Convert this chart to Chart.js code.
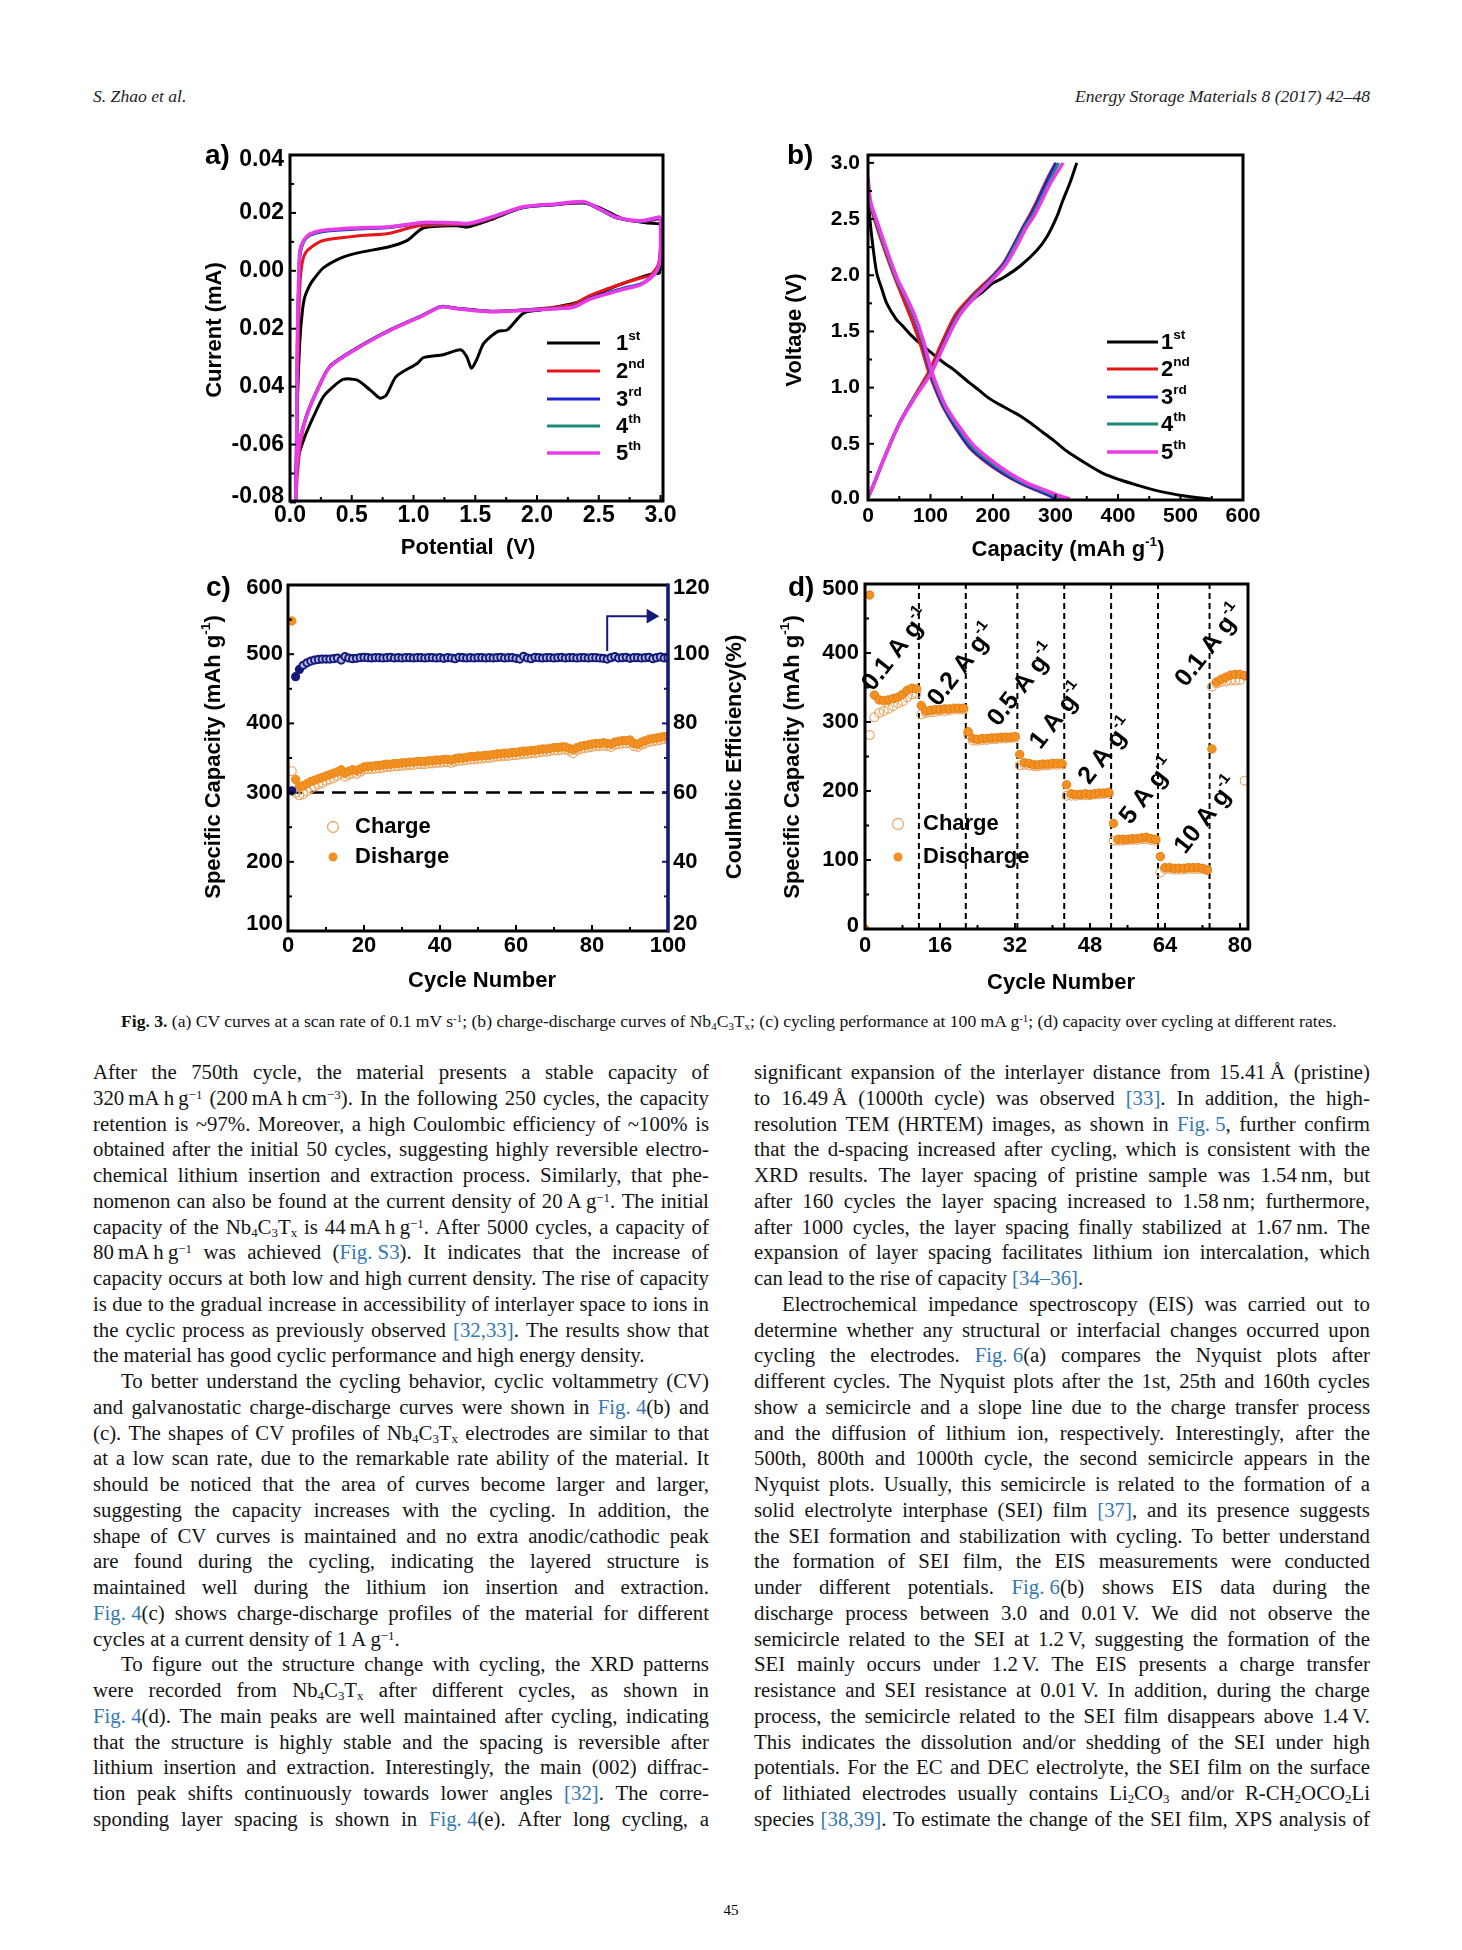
<!DOCTYPE html>
<html>
<head>
<meta charset="utf-8">
<script src="https://cdn.jsdelivr.net/npm/chart.js@4.4.1/dist/chart.umd.min.js"></script>
<style>
html, body { margin: 0; padding: 0; background: #fff; }
#page { position: relative; width: 1462px; height: 1950px; overflow: hidden; background: #fff; }
canvas { position: absolute; }
.hdr { position: absolute; top: 86px; font: italic 17.6px "Liberation Serif", serif; color: #222; white-space: nowrap; }
.cap { position: absolute; left: 121px; top: 1011px; font: 17.6px "Liberation Serif", serif; color: #111; white-space: nowrap; }
.col { position: absolute; top: 1059px; width: 616px; font: 20.8px/25.76px "Liberation Serif", serif; color: #141414; }
.ln { display: flex; justify-content: space-between; height: 25.76px; white-space: nowrap; }
.ln.e { display: block; }
.ln.i { padding-left: 28px; }
sup { font-size: 0.62em; vertical-align: 0.5em; line-height: 0; }
sub { font-size: 0.62em; vertical-align: -0.25em; line-height: 0; }
a { color: #3578b0; text-decoration: none; }
.pg { position: absolute; left: 716px; top: 1902px; width: 30px; text-align: center; font: 15px "Liberation Serif", serif; }
</style>
</head>
<body>
<div id="page">
  <div class="hdr" style="left:93px">S. Zhao et al.</div>
  <div class="hdr" style="right:92px">Energy Storage Materials 8 (2017) 42–48</div>

  <canvas id="chA" width="520" height="450" style="left:180px;top:130px"></canvas>
  <canvas id="chB" width="520" height="450" style="left:760px;top:130px"></canvas>
  <canvas id="chC" width="600" height="450" style="left:180px;top:560px"></canvas>
  <canvas id="chD" width="520" height="450" style="left:760px;top:560px"></canvas>

  <div class="cap"><b>Fig. 3.</b> (a) CV curves at a scan rate of 0.1 mV s<sup>-1</sup>; (b) charge-discharge curves of Nb<sub>4</sub>C<sub>3</sub>T<sub>x</sub>; (c) cycling performance at 100 mA g<sup>-1</sup>; (d) capacity over cycling at different rates.</div>

  <div class="col" id="colL" style="left:93px"></div>
  <div class="col" id="colR" style="left:754px"></div>
  <div class="pg">45</div>
</div>

<script>
const FONT = '"Liberation Sans", Arial, sans-serif';

// ---------- (a) CV curves: potential (V) / current (mA), one loop per cycle ----------
const cycleNames = [['1', 'st'], ['2', 'nd'], ['3', 'rd'], ['4', 'th'], ['5', 'th']];
const cycleColors = ['#000000', '#e8161b', '#1e22d6', '#1b8a7a', '#e93be8'];

const cv1V = [3.00, 3.00, 2.99, 2.95, 2.70, 2.43, 2.30, 2.03, 1.89, 1.76, 1.68, 1.57, 1.51, 1.47, 1.43, 1.38, 1.24, 1.08, 1.03, 0.86, 0.78, 0.73, 0.65, 0.54, 0.43, 0.35, 0.27, 0.19, 0.11, 0.06, 0.045,
  0.05, 0.06, 0.08, 0.10, 0.12, 0.16, 0.19, 0.27, 0.41, 0.54, 0.81, 0.95, 1.08, 1.35, 1.43, 1.62, 1.89, 2.16, 2.38, 2.51, 2.68, 2.85, 2.97, 3.00];
const cv1I = [0.0163, 0.004, -0.0008, -0.0008, -0.0043, -0.0089, -0.0112, -0.0135, -0.0146, -0.0204, -0.021, -0.025, -0.0308, -0.0337, -0.0296, -0.0273, -0.029, -0.030, -0.032, -0.0365, -0.0429, -0.044, -0.0412, -0.0377, -0.0375, -0.040, -0.0435, -0.0504, -0.0584, -0.0654, -0.072,
  -0.066, -0.045, -0.024, -0.014, -0.009, -0.005, -0.003, 0.001, 0.0044, 0.0061, 0.0084, 0.0105, 0.0148, 0.0156, 0.0151, 0.0176, 0.0219, 0.023, 0.0234, 0.0217, 0.0182, 0.0168, 0.0163, 0.0163];

const cv2V = [3.00, 3.00, 2.98, 2.92, 2.84, 2.70, 2.43, 2.30, 2.16, 1.89, 1.62, 1.35, 1.22, 1.08, 0.81, 0.54, 0.32, 0.22, 0.14, 0.09, 0.06, 0.05,
  0.055, 0.06, 0.07, 0.08, 0.10, 0.13, 0.20, 0.27, 0.54, 0.81, 1.03, 1.35, 1.45, 1.62, 1.89, 2.16, 2.38, 2.51, 2.65, 2.84, 3.00];
const cv2I = [0.0180, 0.0080, 0.0020, -0.0015, -0.0025, -0.0043, -0.0085, -0.0115, -0.0125, -0.0135, -0.0140, -0.0129, -0.0125, -0.0152, -0.0204, -0.0267, -0.0331, -0.0412, -0.0492, -0.0584, -0.0700, -0.0785,
  -0.065, -0.045, -0.020, -0.005, 0.003, 0.0065, 0.0090, 0.0105, 0.0120, 0.0130, 0.0155, 0.0160, 0.0160, 0.0180, 0.0219, 0.0228, 0.0236, 0.0212, 0.0183, 0.0170, 0.0180];

const cv3V = [3.00, 3.00, 2.99, 2.95, 2.84, 2.70, 2.43, 2.30, 2.16, 1.89, 1.62, 1.35, 1.22, 1.08, 0.81, 0.54, 0.32, 0.22, 0.14, 0.08, 0.05, 0.05,
  0.05, 0.055, 0.06, 0.07, 0.08, 0.11, 0.16, 0.27, 0.54, 0.81, 1.08, 1.35, 1.45, 1.62, 1.89, 2.16, 2.38, 2.51, 2.65, 2.84, 3.00];
const cv3I = [0.0183, 0.0080, 0.0020, -0.0010, -0.0045, -0.0060, -0.0095, -0.0123, -0.0129, -0.0135, -0.0140, -0.0129, -0.0123, -0.0152, -0.0204, -0.0267, -0.0331, -0.0412, -0.0492, -0.0584, -0.0700, -0.0795,
  -0.075, -0.050, -0.025, -0.005, 0.005, 0.0100, 0.0122, 0.0136, 0.0144, 0.0150, 0.0165, 0.0163, 0.0162, 0.0182, 0.0219, 0.0229, 0.0237, 0.0211, 0.0182, 0.0171, 0.0183];

const cv4V = [3.00, 3.00, 2.99, 2.95, 2.84, 2.70, 2.43, 2.30, 2.16, 1.89, 1.62, 1.35, 1.22, 1.08, 0.81, 0.54, 0.32, 0.22, 0.14, 0.08, 0.05, 0.05,
  0.05, 0.055, 0.06, 0.07, 0.08, 0.11, 0.16, 0.27, 0.54, 0.81, 1.08, 1.35, 1.45, 1.62, 1.89, 2.16, 2.38, 2.51, 2.65, 2.84, 3.00];
const cv4I = [0.0185, 0.0082, 0.0021, -0.0011, -0.0047, -0.0062, -0.0097, -0.0124, -0.0130, -0.0136, -0.0141, -0.0130, -0.0124, -0.0153, -0.0205, -0.0268, -0.0332, -0.0413, -0.0494, -0.0586, -0.0702, -0.0795,
  -0.075, -0.050, -0.024, -0.004, 0.006, 0.0102, 0.0124, 0.0138, 0.0146, 0.0151, 0.0166, 0.0164, 0.0163, 0.0183, 0.0220, 0.0230, 0.0238, 0.0212, 0.0183, 0.0172, 0.0185];

const cv5V = [3.00, 3.00, 2.99, 2.95, 2.84, 2.70, 2.43, 2.30, 2.16, 1.89, 1.62, 1.35, 1.22, 1.08, 0.81, 0.54, 0.32, 0.22, 0.14, 0.08, 0.05, 0.05,
  0.05, 0.055, 0.06, 0.07, 0.08, 0.11, 0.16, 0.27, 0.54, 0.81, 1.08, 1.35, 1.45, 1.62, 1.89, 2.16, 2.38, 2.51, 2.65, 2.84, 3.00];
const cv5I = [0.0187, 0.0084, 0.0022, -0.0012, -0.0048, -0.0064, -0.0098, -0.0125, -0.0131, -0.0137, -0.0141, -0.0131, -0.0125, -0.0154, -0.0206, -0.0269, -0.0333, -0.0414, -0.0495, -0.0587, -0.0703, -0.0795,
  -0.075, -0.050, -0.023, -0.003, 0.007, 0.0105, 0.0127, 0.0140, 0.0148, 0.0152, 0.0167, 0.0165, 0.0164, 0.0184, 0.0221, 0.0231, 0.0239, 0.0213, 0.0184, 0.0173, 0.0187];

const aXTicks = [0, 0.5, 1.0, 1.5, 2.0, 2.5, 3.0];
const aXLabels = ['0.0', '0.5', '1.0', '1.5', '2.0', '2.5', '3.0'];
const aYTicks = [-0.08, -0.06, -0.04, -0.02, 0.00, 0.02, 0.04];
const aYLabels = ['-0.08', '-0.06', '0.04', '0.02', '0.00', '0.02', '0.04'];

// ---------- (b) charge-discharge curves: capacity (mAh/g) / voltage (V) ----------
const b1DisCap = [0, 3, 8, 14, 22, 30, 45, 57, 70, 84, 97, 110, 124, 137, 150, 163, 177, 190, 204, 217, 230, 243, 259, 278, 297, 310, 323, 350, 376, 403, 430, 457, 483, 510, 536, 552];
const b1DisV = [2.72, 2.50, 2.25, 2.02, 1.88, 1.75, 1.61, 1.54, 1.46, 1.39, 1.33, 1.27, 1.21, 1.16, 1.10, 1.04, 0.98, 0.92, 0.87, 0.83, 0.79, 0.75, 0.69, 0.61, 0.53, 0.47, 0.415, 0.32, 0.237, 0.18, 0.133, 0.09, 0.059, 0.034, 0.015, 0.006];
const b1ChCap = [0, 10, 25, 50, 75, 100, 120, 142, 165, 185, 200, 217, 243, 270, 286, 302, 312, 323, 334];
const b1ChV = [0.02, 0.15, 0.36, 0.68, 0.92, 1.13, 1.38, 1.62, 1.77, 1.86, 1.93, 1.98, 2.08, 2.22, 2.34, 2.52, 2.67, 2.82, 3.00];

const b2DisCap = [0, 4, 14, 30, 44, 57, 70, 84, 97, 108, 120, 140, 163, 190, 217, 245, 270, 290, 300];
const b2DisV = [2.80, 2.62, 2.43, 2.17, 1.96, 1.78, 1.60, 1.38, 1.14, 0.98, 0.83, 0.64, 0.46, 0.33, 0.23, 0.145, 0.085, 0.04, 0.012];
const b2ChCap = [0, 10, 25, 50, 75, 98, 118, 140, 163, 183, 200, 217, 233, 249, 260, 270, 285, 300];
const b2ChV = [0.02, 0.15, 0.36, 0.68, 0.93, 1.15, 1.40, 1.65, 1.80, 1.91, 2.00, 2.11, 2.27, 2.44, 2.55, 2.66, 2.84, 3.00];

const b3DisCap = [0, 4, 14, 30, 46, 60, 73, 87, 100, 110, 121, 140, 163, 190, 217, 245, 270, 290, 301];
const b3DisV = [2.85, 2.64, 2.46, 2.20, 1.96, 1.80, 1.63, 1.40, 1.13, 0.97, 0.83, 0.65, 0.47, 0.34, 0.237, 0.15, 0.09, 0.04, 0.01];
const b3ChCap = [0, 10, 25, 50, 75, 100, 120, 142, 165, 185, 200, 217, 233, 249, 260, 270, 285, 301];
const b3ChV = [0.02, 0.15, 0.36, 0.68, 0.92, 1.13, 1.38, 1.63, 1.79, 1.90, 1.99, 2.10, 2.26, 2.43, 2.53, 2.64, 2.82, 3.00];

const b4DisCap = [0, 4, 14, 30, 46, 60, 74, 88, 101, 112, 123, 143, 167, 195, 222, 250, 276, 298, 312];
const b4DisV = [2.86, 2.65, 2.46, 2.20, 1.96, 1.80, 1.63, 1.40, 1.13, 0.97, 0.83, 0.65, 0.47, 0.34, 0.237, 0.15, 0.09, 0.04, 0.01];
const b4ChCap = [0, 10, 25, 50, 75, 100, 121, 143, 166, 186, 202, 219, 235, 251, 263, 273, 289, 305];
const b4ChV = [0.02, 0.15, 0.36, 0.68, 0.92, 1.13, 1.38, 1.63, 1.79, 1.90, 1.99, 2.10, 2.26, 2.43, 2.53, 2.64, 2.82, 3.00];

const b5DisCap = [0, 4, 15, 31, 47, 61, 75, 89, 102, 113, 124, 145, 170, 198, 226, 255, 282, 305, 323];
const b5DisV = [2.87, 2.66, 2.47, 2.21, 1.97, 1.81, 1.64, 1.41, 1.14, 0.98, 0.84, 0.66, 0.48, 0.35, 0.24, 0.15, 0.09, 0.04, 0.01];
const b5ChCap = [0, 10, 25, 50, 76, 101, 122, 145, 168, 188, 204, 221, 238, 254, 266, 276, 292, 312];
const b5ChV = [0.02, 0.15, 0.36, 0.68, 0.92, 1.13, 1.38, 1.63, 1.79, 1.90, 1.99, 2.10, 2.26, 2.43, 2.53, 2.64, 2.82, 3.00];

const bXTicks = [0, 100, 200, 300, 400, 500, 600];
const bXLabels = ['0', '100', '200', '300', '400', '500', '600'];
const bYTicks = [0, 0.5, 1.0, 1.5, 2.0, 2.5, 3.0];
const bYLabels = ['0.0', '0.5', '1.0', '1.5', '2.0', '2.5', '3.0'];

// ---------- (c) cycling at 100 mA/g, cycles 1..100 ----------
const cCharge = [
  331, 300, 296, 298, 302, 306, 309, 312, 314, 317,
  319, 321, 324, 327, 323, 326, 328, 327, 330, 333,
  334, 334, 335, 335, 336, 337, 337, 338, 338, 339,
  339, 340, 340, 341, 341, 341, 342, 342, 343, 343,
  344, 344, 343, 345, 346, 346, 347, 348, 348, 349,
  349, 350, 350, 351, 352, 352, 353, 353, 354, 354,
  355, 356, 356, 357, 357, 358, 359, 359, 360, 361,
  361, 362, 362, 360, 357, 361, 363, 364, 365, 366,
  367, 367, 368, 367, 366, 369, 370, 371, 371, 372,
  367, 366, 369, 371, 373, 374, 375, 376, 377, 378];
const cDischarge = [
  548, 319, 309, 310, 313, 316, 318, 320, 322, 324,
  326, 328, 330, 333, 328, 331, 333, 332, 334, 337,
  338, 338, 339, 339, 340, 341, 341, 342, 342, 343,
  343, 344, 344, 345, 345, 345, 346, 346, 347, 347,
  348, 348, 347, 349, 350, 350, 351, 352, 352, 353,
  353, 354, 354, 355, 356, 356, 357, 357, 358, 358,
  359, 360, 360, 361, 361, 362, 363, 363, 364, 365,
  365, 366, 366, 364, 362, 365, 367, 368, 369, 370,
  371, 371, 372, 371, 370, 373, 374, 375, 375, 376,
  371, 370, 373, 375, 377, 378, 379, 380, 381, 382];
const cEfficiency = [
  60.5, 93.5, 95.6, 96.8, 97.5, 98.0, 98.3, 98.5, 98.6, 98.6,
  98.6, 98.7, 98.9, 98.3, 99.3, 98.9, 98.7, 98.8, 99.0, 99.1,
  99.0, 98.9, 99.0, 99.0, 98.9, 99.0, 99.1, 98.9, 99.0, 98.9,
  99.0, 99.0, 98.9, 99.0, 99.0, 98.9, 99.0, 99.0, 98.9, 99.0,
  98.8, 99.0, 98.9, 98.7, 99.1, 99.0, 98.9, 99.0, 98.9, 99.0,
  99.0, 98.9, 99.0, 98.9, 99.0, 99.1, 98.9, 99.0, 99.0, 98.8,
  98.6, 99.4, 98.9, 98.7, 99.1, 99.0, 98.9, 99.0, 99.0, 98.9,
  99.0, 99.1, 98.9, 99.0, 99.0, 98.9, 99.0, 99.0, 98.9, 99.0,
  99.0, 98.9, 98.8, 98.6, 99.0, 99.3, 98.9, 99.0, 99.1, 98.8,
  99.0, 99.0, 98.9, 99.0, 99.1, 98.7, 99.0, 99.2, 98.9, 99.0];
const cRefCapacity = 300;
const cArrowX = [84, 84, 95.5];
const cArrowY = [100.9, 111.0, 111.0];
const cXTicks = [0, 20, 40, 60, 80, 100];
const cYTicks = [100, 200, 300, 400, 500, 600];
const cY2Ticks = [20, 40, 60, 80, 100, 120];

// ---------- (d) rate capability ----------
const dDischarge = [0,
  484, 339, 332, 331, 332, 334, 336, 340, 346, 349, 348,
  324, 316, 317, 318, 318, 319, 319, 320, 320, 320,
  286, 276, 275, 276, 276, 277, 277, 278, 278, 278, 279,
  253, 241, 240, 238, 238, 239, 239, 240, 240, 240,
  209, 196, 195, 195, 196, 195, 196, 197, 197, 198,
  153, 130, 130, 130, 131, 131, 132, 133, 131, 130,
  105, 89, 89, 88, 88, 88, 89, 89, 89, 88, 85,
  261, 358, 362, 365, 368, 369, 369, 367];
const dCharge = [
  281, 307, 313, 316, 319, 323, 327, 330, 336, 340, 341,
  311, 313, 314, 315, 316, 316, 317, 318, 318, 318,
  282, 273, 273, 274, 274, 275, 275, 276, 276, 277, 277,
  237, 238, 237, 236, 236, 237, 237, 238, 238, 238,
  193, 193, 193, 194, 194, 194, 195, 195, 196, 196,
  128, 128, 128, 129, 129, 129, 130, 130, 129, 128,
  82, 87, 87, 86, 86, 86, 87, 87, 87, 87, 86,
  351, 356, 358, 359, 360, 360, 361, 215];
const dRateBounds = [11.5, 21.5, 32.5, 42.5, 52.5, 62.5, 73.5];
const dRateNames = ['0.1', '0.2', '0.5', '1', '2', '5', '10', '0.1'];
const dRateAtCycle = [6.8, 20.8, 33.6, 41.2, 51.6, 60.4, 73.0, 73.6];
const dRateAtCap = [404, 382, 353, 308, 257, 199, 164, 410];
const dXTicks = [0, 16, 32, 48, 64, 80];
const dYTicks = [0, 100, 200, 300, 400, 500];

// ---------- helpers ----------
const pts = (xs, ys) => xs.map((x, i) => ({ x, y: ys[i] }));
const mids = t => t.slice(0, -1).map((v, i) => (v + t[i + 1]) / 2);
const navy = '#14197a';
const orange = '#f39222';
const paleOrange = '#eaa766';

function richText(ctx, parts, x, y, size, opt) {
  opt = opt || {};
  ctx.save();
  ctx.translate(x, y);
  ctx.rotate(opt.rot || 0);
  ctx.fillStyle = opt.color || '#000';
  ctx.textBaseline = 'middle';
  ctx.textAlign = 'left';
  let total = 0;
  const items = parts.map(p => {
    const fs = p[1] === 'sup' ? size * 0.62 : size;
    ctx.font = 'bold ' + fs + 'px ' + FONT;
    const w = ctx.measureText(p[0]).width;
    total += w;
    return { t: p[0], sup: p[1] === 'sup', fs, w };
  });
  let cx = opt.align === 'left' ? 0 : -total / 2;
  items.forEach(it => {
    ctx.font = 'bold ' + it.fs + 'px ' + FONT;
    ctx.fillText(it.t, cx, it.sup ? -size * 0.36 : 0);
    cx += it.w;
  });
  ctx.restore();
}

const decor = {
  id: 'decor',
  afterDatasetsDraw(chart, args, o) {
    const ctx = chart.ctx;
    const a = chart.chartArea;
    ctx.save();
    (o.ticks || []).forEach(t => {
      const s = chart.scales[t.id];
      ctx.strokeStyle = t.color || '#000';
      ctx.lineWidth = 2;
      const mk = (v, len) => {
        const p = s.getPixelForValue(v);
        ctx.beginPath();
        if (t.side === 'bottom') { ctx.moveTo(p, a.bottom); ctx.lineTo(p, a.bottom - len); }
        else if (t.side === 'left') { ctx.moveTo(a.left, p); ctx.lineTo(a.left + len, p); }
        else { ctx.moveTo(a.right, p); ctx.lineTo(a.right - len, p); }
        ctx.stroke();
      };
      t.major.forEach(v => mk(v, 6));
      mids(t.major).forEach(v => mk(v, 4));
    });
    ctx.lineWidth = 3;
    ctx.strokeStyle = '#000';
    ctx.strokeRect(a.left, a.top, a.right - a.left, a.bottom - a.top);
    if (o.rightColor) {
      ctx.strokeStyle = o.rightColor;
      ctx.beginPath();
      ctx.moveTo(a.right, a.top - 1.5);
      ctx.lineTo(a.right, a.bottom + 1.5);
      ctx.stroke();
    }
    // vertical-axis tick labels, placed by the scale; end labels pulled inward like the original figure
    (o.yLabels || []).forEach(L => {
      const s = chart.scales[L.id];
      ctx.font = 'bold ' + L.size + 'px ' + FONT;
      ctx.fillStyle = '#000';
      ctx.textBaseline = 'middle';
      ctx.textAlign = L.side === 'left' ? 'right' : 'left';
      const x = L.side === 'left' ? a.left - L.pad : a.right + L.pad;
      L.values.forEach((v, i) => {
        let y = s.getPixelForValue(v);
        if (i === 0) y += L.nudge[0];
        if (i === L.values.length - 1) y += L.nudge[1];
        ctx.fillText(L.labels[i], x, y);
      });
    });
    (o.lines || []).forEach(l => {
      ctx.strokeStyle = l.color;
      ctx.lineWidth = l.width || 2.5;
      ctx.beginPath();
      ctx.moveTo(l.x1, l.y);
      ctx.lineTo(l.x2, l.y);
      ctx.stroke();
    });
    (o.marks || []).forEach(m => {
      ctx.beginPath();
      ctx.arc(m.x, m.y, m.r, 0, Math.PI * 2);
      if (m.filled) { ctx.fillStyle = m.color; ctx.fill(); }
      else { ctx.lineWidth = 1.3; ctx.strokeStyle = m.color; ctx.stroke(); }
    });
    (o.texts || []).forEach(t => richText(ctx, t.parts, t.x, t.y, t.size, t));
    (o.dataTexts || []).forEach(t => {
      const px = chart.scales.x.getPixelForValue(t.dx);
      const py = chart.scales.y.getPixelForValue(t.dy);
      richText(ctx, t.parts, px, py, t.size, t);
    });
    ctx.restore();
  }
};

function axis(min, max, ticks, labels, size, pad, fit, extra) {
  return Object.assign({
    type: 'linear', min, max,
    afterBuildTicks: s => { s.ticks = ticks.map(v => ({ value: v })); },
    afterFit: fit,
    grid: { display: false, drawTicks: false },
    border: { display: false },
    ticks: {
      font: { family: FONT, size, weight: 'bold', lineHeight: 1 },
      color: '#000', padding: pad, maxRotation: 0, minRotation: 0, autoSkip: false,
      callback: (v, i) => labels[i]
    }
  }, extra || {});
}
// vertical axes: labels drawn by the decor plugin at the scale's pixel positions
function vAxis(min, max, ticks, fit, position) {
  return {
    type: 'linear', min, max, position,
    afterBuildTicks: s => { s.ticks = ticks.map(v => ({ value: v })); },
    afterFit: fit,
    grid: { display: false, drawTicks: false },
    border: { display: false },
    ticks: { display: false }
  };
}
const fitW = w => s => { s.width = w; };
const fitH = h => s => { s.height = h; };

function baseOptions(layoutPad, scales, decorOpts) {
  return {
    responsive: false, animation: false, devicePixelRatio: 1,
    layout: { padding: layoutPad },
    scales,
    plugins: { legend: { display: false }, tooltip: { enabled: false }, decor: decorOpts }
  };
}

function legendRows(rows, x1, x2, tx, size) {
  const lines = [], texts = [];
  rows.forEach((y, i) => {
    lines.push({ x1, x2, y, color: cycleColors[i], width: i === 4 ? 3.5 : 3 });
    texts.push({ parts: [[cycleNames[i][0]], [cycleNames[i][1], 'sup']], x: tx, y: y + 1, size, align: 'left' });
  });
  return { lines, texts };
}

// ---------- chart a ----------
const cvSets = [[cv1V, cv1I], [cv2V, cv2I], [cv3V, cv3I], [cv4V, cv4I], [cv5V, cv5I]];
const legA = legendRows([213, 241, 269, 296, 323], 367, 420, 436, 22);
new Chart(document.getElementById('chA'), {
  type: 'scatter',
  data: {
    datasets: cvSets.map((s, i) => ({
      data: pts(s[0], s[1]), showLine: true, borderColor: cycleColors[i],
      borderWidth: i === 4 ? 3.5 : 3, pointRadius: 0, tension: 0.25, order: i === 0 ? 5 : 4 - i
    }))
  },
  options: baseOptions({ top: 25, right: 37, left: 0, bottom: 0 }, {
    x: axis(0, 3.02, aXTicks, aXLabels, 23, 3, fitH(79), { position: 'bottom' }),
    y: vAxis(-0.0795, 0.04, aYTicks, fitW(110), 'left')
  }, {
    ticks: [{ id: 'x', side: 'bottom', major: aXTicks }, { id: 'y', side: 'left', major: aYTicks }],
    yLabels: [{ id: 'y', side: 'left', values: aYTicks, labels: aYLabels, size: 23, pad: 6, nudge: [-6, 5] }],
    lines: legA.lines,
    texts: [
      { parts: [['a)']], x: 25, y: 26, size: 28, align: 'left' },
      { parts: [['Current (mA)']], x: 35, y: 200, size: 22, rot: -Math.PI / 2 },
      { parts: [['Potential  (V)']], x: 288, y: 418, size: 22 }
    ].concat(legA.texts)
  }),
  plugins: [decor]
});

// ---------- chart b ----------
const bSets = [
  [b1DisCap, b1DisV, b1ChCap, b1ChV], [b2DisCap, b2DisV, b2ChCap, b2ChV], [b3DisCap, b3DisV, b3ChCap, b3ChV],
  [b4DisCap, b4DisV, b4ChCap, b4ChV], [b5DisCap, b5DisV, b5ChCap, b5ChV]];
const bData = [];
bSets.forEach((s, i) => {
  [[s[0], s[1]], [s[2], s[3]]].forEach(br => bData.push({
    data: pts(br[0], br[1]), showLine: true, borderColor: cycleColors[i],
    borderWidth: i === 4 ? 3.5 : 3, pointRadius: 0, tension: 0.3, order: i === 0 ? 5 : 4 - i
  }));
});
const legB = legendRows([212, 239, 267, 294, 322], 347, 398, 401, 22);
new Chart(document.getElementById('chB'), {
  type: 'scatter',
  data: { datasets: bData },
  options: baseOptions({ top: 25, right: 37, left: 0, bottom: 0 }, {
    x: axis(0, 600, bXTicks, bXLabels, 21, 6, fitH(80), { position: 'bottom' }),
    y: vAxis(0, 3.07, bYTicks, fitW(108), 'left')
  }, {
    ticks: [{ id: 'x', side: 'bottom', major: bXTicks }, { id: 'y', side: 'left', major: bYTicks }],
    yLabels: [{ id: 'y', side: 'left', values: bYTicks, labels: bYLabels, size: 21, pad: 8, nudge: [-2, 0] }],
    lines: legB.lines,
    texts: [
      { parts: [['b)']], x: 27, y: 26, size: 28, align: 'left' },
      { parts: [['Voltage (V)']], x: 35, y: 200, size: 22, rot: -Math.PI / 2 },
      { parts: [['Capacity (mAh g'], ['-1', 'sup'], [')']], x: 308, y: 420, size: 22 }
    ].concat(legB.texts)
  }),
  plugins: [decor]
});

// ---------- chart c ----------
new Chart(document.getElementById('chC'), {
  type: 'scatter',
  data: {
    datasets: [
      { data: cDischarge.map((v, i) => ({ x: i + 1, y: v })), yAxisID: 'y', pointRadius: 4.2, pointBorderWidth: 1,
        pointBackgroundColor: orange, pointBorderColor: '#e8861a', order: 1 },
      { data: cCharge.map((v, i) => ({ x: i + 1, y: v })), yAxisID: 'y', pointRadius: 4.4, pointBorderWidth: 1.2,
        pointBackgroundColor: 'rgba(255,255,255,0)', pointBorderColor: paleOrange, order: 2 },
      { data: cEfficiency.map((v, i) => ({ x: i + 1, y: v })), yAxisID: 'y2', pointRadius: 3.6, pointBorderWidth: 2,
        pointBackgroundColor: ctx => ctx.dataIndex < 3 ? navy : '#b9bee0', pointBorderColor: navy, order: 0 },
      { data: [{ x: 0, y: cRefCapacity }, { x: 100, y: cRefCapacity }], yAxisID: 'y', showLine: true,
        borderColor: '#000', borderWidth: 2.5, borderDash: [14, 8], pointRadius: 0, order: 3 },
      { data: pts(cArrowX, cArrowY), yAxisID: 'y2', showLine: true, borderColor: navy, borderWidth: 2,
        pointRadius: [0, 0, 6.5], pointStyle: 'triangle', pointRotation: 90, pointBackgroundColor: navy,
        pointBorderColor: navy, order: 0 }
    ]
  },
  options: baseOptions({ top: 25, right: 0, left: 0, bottom: 0 }, {
    x: axis(0, 100, cXTicks, cXTicks.map(String), 22, 4, fitH(79), { position: 'bottom' }),
    y: vAxis(100, 600, cYTicks, fitW(108), 'left'),
    y2: vAxis(20, 120, cY2Ticks, fitW(112), 'right')
  }, {
    ticks: [{ id: 'x', side: 'bottom', major: cXTicks }, { id: 'y', side: 'left', major: cYTicks },
      { id: 'y2', side: 'right', major: cY2Ticks, color: navy }],
    yLabels: [
      { id: 'y', side: 'left', values: cYTicks, labels: cYTicks.map(String), size: 22, pad: 5, nudge: [-7, 3] },
      { id: 'y2', side: 'right', values: cY2Ticks, labels: cY2Ticks.map(String), size: 22, pad: 5, nudge: [-7, 3] }
    ],
    rightColor: navy,
    marks: [{ x: 153, y: 267, r: 5.5, filled: false, color: paleOrange }, { x: 153, y: 297, r: 4.5, filled: true, color: orange }],
    texts: [
      { parts: [['c)']], x: 26, y: 28, size: 28, align: 'left' },
      { parts: [['Specific Capacity (mAh g'], ['-1', 'sup'], [')']], x: 34, y: 197, size: 22, rot: -Math.PI / 2 },
      { parts: [['Coulmbic Efficiency(%)']], x: 555, y: 197, size: 22, rot: -Math.PI / 2 },
      { parts: [['Cycle Number']], x: 302, y: 421, size: 22 },
      { parts: [['Charge']], x: 175, y: 267, size: 22, align: 'left' },
      { parts: [['Disharge']], x: 175, y: 297, size: 22, align: 'left' }
    ]
  }),
  plugins: [decor]
});

// ---------- chart d ----------
new Chart(document.getElementById('chD'), {
  type: 'scatter',
  data: {
    datasets: [
      { data: dDischarge.map((v, i) => ({ x: i, y: v })), pointRadius: 4.2, pointBorderWidth: 1,
        pointBackgroundColor: orange, pointBorderColor: '#e07c12', order: 1 },
      { data: dCharge.map((v, i) => ({ x: i + 1, y: v })), pointRadius: 4.4, pointBorderWidth: 1.2,
        pointBackgroundColor: 'rgba(255,255,255,0)', pointBorderColor: paleOrange, order: 2 }
    ].concat(dRateBounds.map(b => ({
      data: [{ x: b, y: 0 }, { x: b, y: 500 }], showLine: true, borderColor: '#000', borderWidth: 2,
      borderDash: [6, 4], pointRadius: 0, order: 3
    })))
  },
  options: baseOptions({ top: 24, right: 32, left: 0, bottom: 0 }, {
    x: axis(0, 81.7, dXTicks, dXTicks.map(String), 22, 6, fitH(81), { position: 'bottom' }),
    y: vAxis(0, 500, dYTicks, fitW(105), 'left')
  }, {
    ticks: [{ id: 'x', side: 'bottom', major: dXTicks }, { id: 'y', side: 'left', major: dYTicks }],
    yLabels: [{ id: 'y', side: 'left', values: dYTicks, labels: dYTicks.map(String), size: 22, pad: 6, nudge: [-3, 5] }],
    marks: [{ x: 138, y: 264, r: 5.5, filled: false, color: paleOrange }, { x: 138, y: 297, r: 4.5, filled: true, color: orange }],
    texts: [
      { parts: [['d)']], x: 28, y: 28, size: 28, align: 'left' },
      { parts: [['Specific Capacity (mAh g'], ['-1', 'sup'], [')']], x: 33, y: 197, size: 22, rot: -Math.PI / 2 },
      { parts: [['Cycle Number']], x: 301, y: 423, size: 22 },
      { parts: [['Charge']], x: 163, y: 264, size: 22, align: 'left' },
      { parts: [['Discharge']], x: 163, y: 297, size: 22, align: 'left' }
    ],
    dataTexts: dRateNames.map((n, i) => ({
      parts: [[n + ' A g'], ['-1', 'sup']], dx: dRateAtCycle[i], dy: dRateAtCap[i], size: 25, rot: -52 * Math.PI / 180
    }))
  }),
  plugins: [decor]
});

// ---------- article text ----------
const g1 = 'g<sup>−1</sup>';
const nb = 'Nb<sub>4</sub>C<sub>3</sub>T<sub>x</sub>';
const leftLines = [
  ['After the 750th cycle, the material presents a stable capacity of'],
  ['320&thinsp;mA&thinsp;h&thinsp;' + g1 + ' (200&thinsp;mA&thinsp;h&thinsp;cm<sup>−3</sup>). In the following 250 cycles, the capacity'],
  ['retention is ~97%. Moreover, a high Coulombic efficiency of ~100% is'],
  ['obtained after the initial 50 cycles, suggesting highly reversible electro-'],
  ['chemical lithium insertion and extraction process. Similarly, that phe-'],
  ['nomenon can also be found at the current density of 20&thinsp;A&thinsp;' + g1 + '. The initial'],
  ['capacity of the ' + nb + ' is 44&thinsp;mA&thinsp;h&thinsp;' + g1 + '. After 5000 cycles, a capacity of'],
  ['80&thinsp;mA&thinsp;h&thinsp;' + g1 + ' was achieved (<a>Fig.&nbsp;S3</a>). It indicates that the increase of'],
  ['capacity occurs at both low and high current density. The rise of capacity'],
  ['is due to the gradual increase in accessibility of interlayer space to ions in'],
  ['the cyclic process as previously observed <a>[32,33]</a>. The results show that'],
  ['the material has good cyclic performance and high energy density.', 'e'],
  ['To better understand the cycling behavior, cyclic voltammetry (CV)', 'i'],
  ['and galvanostatic charge-discharge curves were shown in <a>Fig.&nbsp;4</a>(b) and'],
  ['(c). The shapes of CV profiles of ' + nb + ' electrodes are similar to that'],
  ['at a low scan rate, due to the remarkable rate ability of the material. It'],
  ['should be noticed that the area of curves become larger and larger,'],
  ['suggesting the capacity increases with the cycling. In addition, the'],
  ['shape of CV curves is maintained and no extra anodic/cathodic peak'],
  ['are found during the cycling, indicating the layered structure is'],
  ['maintained well during the lithium ion insertion and extraction.'],
  ['<a>Fig.&nbsp;4</a>(c) shows charge-discharge profiles of the material for different'],
  ['cycles at a current density of 1&thinsp;A&thinsp;' + g1 + '.', 'e'],
  ['To figure out the structure change with cycling, the XRD patterns', 'i'],
  ['were recorded from ' + nb + ' after different cycles, as shown in'],
  ['<a>Fig.&nbsp;4</a>(d). The main peaks are well maintained after cycling, indicating'],
  ['that the structure is highly stable and the spacing is reversible after'],
  ['lithium insertion and extraction. Interestingly, the main (002) diffrac-'],
  ['tion peak shifts continuously towards lower angles <a>[32]</a>. The corre-'],
  ['sponding layer spacing is shown in <a>Fig.&nbsp;4</a>(e). After long cycling, a']
];
const rightLines = [
  ['significant expansion of the interlayer distance from 15.41&thinsp;Å (pristine)'],
  ['to 16.49&thinsp;Å (1000th cycle) was observed <a>[33]</a>. In addition, the high-'],
  ['resolution TEM (HRTEM) images, as shown in <a>Fig.&nbsp;5</a>, further confirm'],
  ['that the d-spacing increased after cycling, which is consistent with the'],
  ['XRD results. The layer spacing of pristine sample was 1.54&thinsp;nm, but'],
  ['after 160 cycles the layer spacing increased to 1.58&thinsp;nm; furthermore,'],
  ['after 1000 cycles, the layer spacing finally stabilized at 1.67&thinsp;nm. The'],
  ['expansion of layer spacing facilitates lithium ion intercalation, which'],
  ['can lead to the rise of capacity <a>[34–36]</a>.', 'e'],
  ['Electrochemical impedance spectroscopy (EIS) was carried out to', 'i'],
  ['determine whether any structural or interfacial changes occurred upon'],
  ['cycling the electrodes. <a>Fig.&nbsp;6</a>(a) compares the Nyquist plots after'],
  ['different cycles. The Nyquist plots after the 1st, 25th and 160th cycles'],
  ['show a semicircle and a slope line due to the charge transfer process'],
  ['and the diffusion of lithium ion, respectively. Interestingly, after the'],
  ['500th, 800th and 1000th cycle, the second semicircle appears in the'],
  ['Nyquist plots. Usually, this semicircle is related to the formation of a'],
  ['solid electrolyte interphase (SEI) film <a>[37]</a>, and its presence suggests'],
  ['the SEI formation and stabilization with cycling. To better understand'],
  ['the formation of SEI film, the EIS measurements were conducted'],
  ['under different potentials. <a>Fig.&nbsp;6</a>(b) shows EIS data during the'],
  ['discharge process between 3.0 and 0.01&thinsp;V. We did not observe the'],
  ['semicircle related to the SEI at 1.2&thinsp;V, suggesting the formation of the'],
  ['SEI mainly occurs under 1.2&thinsp;V. The EIS presents a charge transfer'],
  ['resistance and SEI resistance at 0.01&thinsp;V. In addition, during the charge'],
  ['process, the semicircle related to the SEI film disappears above 1.4&thinsp;V.'],
  ['This indicates the dissolution and/or shedding of the SEI under high'],
  ['potentials. For the EC and DEC electrolyte, the SEI film on the surface'],
  ['of lithiated electrodes usually contains Li<sub>2</sub>CO<sub>3</sub> and/or R-CH<sub>2</sub>OCO<sub>2</sub>Li'],
  ['species <a>[38,39]</a>. To estimate the change of the SEI film, XPS analysis of']
];

// build the justified lines; a line that would not fit at the column font gets a slightly smaller font
function fillCol(el, lines) {
  const fs = parseFloat(getComputedStyle(el).fontSize);
  lines.forEach(([html, kind]) => {
    const d = document.createElement('div');
    d.className = 'ln ' + (kind || '');
    if (kind === 'e') d.innerHTML = html;
    else d.innerHTML = html.split(' ').map(w => '<span>' + w + '</span>').join('');
    el.appendChild(d);
    if (kind !== 'e') {
      const kids = Array.from(d.children);
      const avail = d.clientWidth - (parseFloat(getComputedStyle(d).paddingLeft) || 0);
      let sum = 0;
      kids.forEach(k => { sum += k.getBoundingClientRect().width; });
      const need = sum + (kids.length - 1) * fs * 0.2;
      if (need > avail) d.style.fontSize = (fs * avail / need) + 'px';
    }
  });
}
fillCol(document.getElementById('colL'), leftLines);
fillCol(document.getElementById('colR'), rightLines);
</script>
</body>
</html>
